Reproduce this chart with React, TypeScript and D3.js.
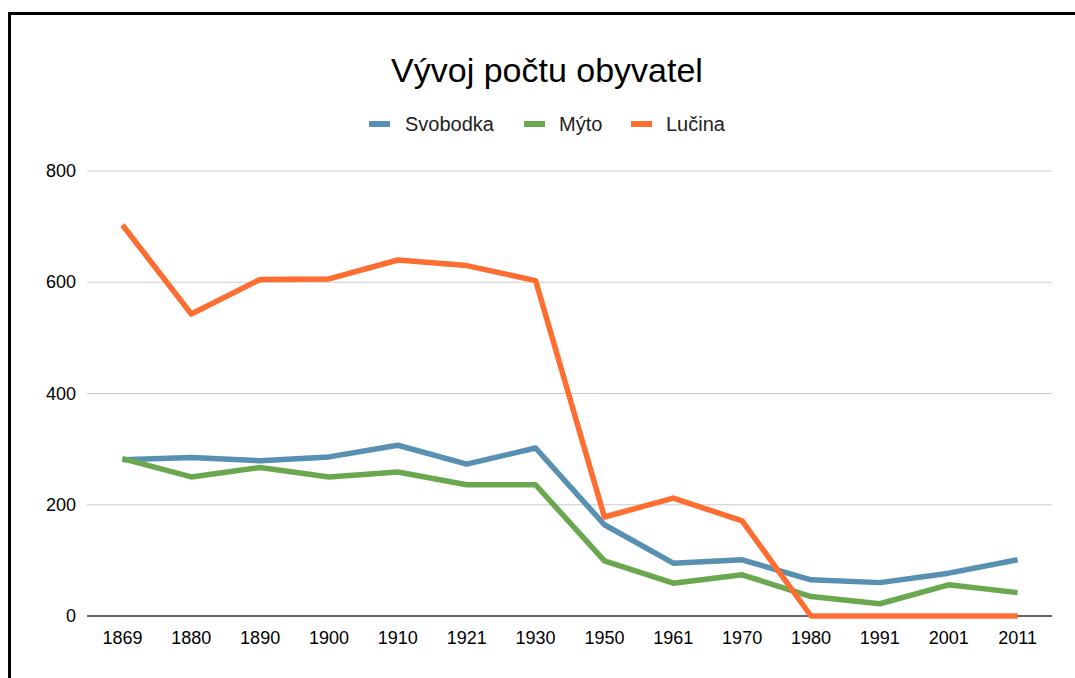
import * as d3 from 'd3';
import { useMemo } from 'react';

const years = ['1869', '1880', '1890', '1900', '1910', '1921', '1930', '1950', '1961', '1970', '1980', '1991', '2001', '2011'];
const svobodka = [281, 285, 279, 286, 307, 273, 302, 164, 95, 101, 65, 60, 77, 101];
const myto = [283, 250, 267, 250, 259, 236, 236, 99, 59, 74, 35, 22, 56, 42];
const lucina = [703, 543, 605, 606, 640, 630, 603, 178, 212, 171, 0, 0, 0, 0];
const yTicks = [0, 200, 400, 600, 800];

const seriesNames = ['Svobodka', 'Mýto', 'Lučina'];
const seriesColors = ['#5790b0', '#6aa84f', '#ff6d31'];

export default function App() {
  const W = 1075, H = 678;
  const left = 88, right = 1052, top = 171, bottom = 616;

  const x = useMemo(() => d3.scaleBand().domain(years).range([left, right]), []);
  const y = useMemo(() => d3.scaleLinear().domain([0, 800]).range([bottom, top]), []);

  const line = d3.line<number>()
    .x((_, i) => (x(years[i]) ?? 0) + x.bandwidth() / 2)
    .y(d => y(d));

  const allSeries = [svobodka, myto, lucina];
  // legend swatch positions
  const legendX = [369, 524, 631];
  const legendTextX = [405, 559, 666];

  return (
    <svg width={W} height={H} style={{ position: 'fixed', left: 0, top: 0, background: '#fff' }}
      fontFamily="'Liberation Sans', Arial, sans-serif">
      <rect x={0} y={0} width={W} height={H} fill="#fff" />
      {/* frame */}
      <path d={`M 9.5 ${H} V 13.5 H ${W}`} fill="none" stroke="#000" strokeWidth={3} />

      <text x={547} y={82} textAnchor="middle" fontSize={34} fill="#000">Vývoj počtu obyvatel</text>

      {seriesNames.map((name, i) => (
        <g key={name}>
          <rect x={legendX[i]} y={121} width={21} height={6} fill={seriesColors[i]} />
          <text x={legendTextX[i]} y={131} fontSize={20} fill="#222">{name}</text>
        </g>
      ))}

      {yTicks.map(t => (
        <g key={t}>
          <line x1={left - 1} x2={right} y1={y(t)} y2={y(t)}
            stroke={t === 0 ? '#333' : '#ccc'} strokeWidth={t === 0 ? 1.5 : 1.2} />
          <text x={76} y={y(t) + 6} textAnchor="end" fontSize={18} fill="#000">{t}</text>
        </g>
      ))}

      {years.map(yr => (
        <text key={yr} x={(x(yr) ?? 0) + x.bandwidth() / 2} y={644} textAnchor="middle" fontSize={18} fill="#000">{yr}</text>
      ))}

      {allSeries.map((s, i) => (
        <path key={i} d={line(s) ?? ''} fill="none" stroke={seriesColors[i]} strokeWidth={5.5} strokeLinejoin="round" />
      ))}
    </svg>
  );
}
